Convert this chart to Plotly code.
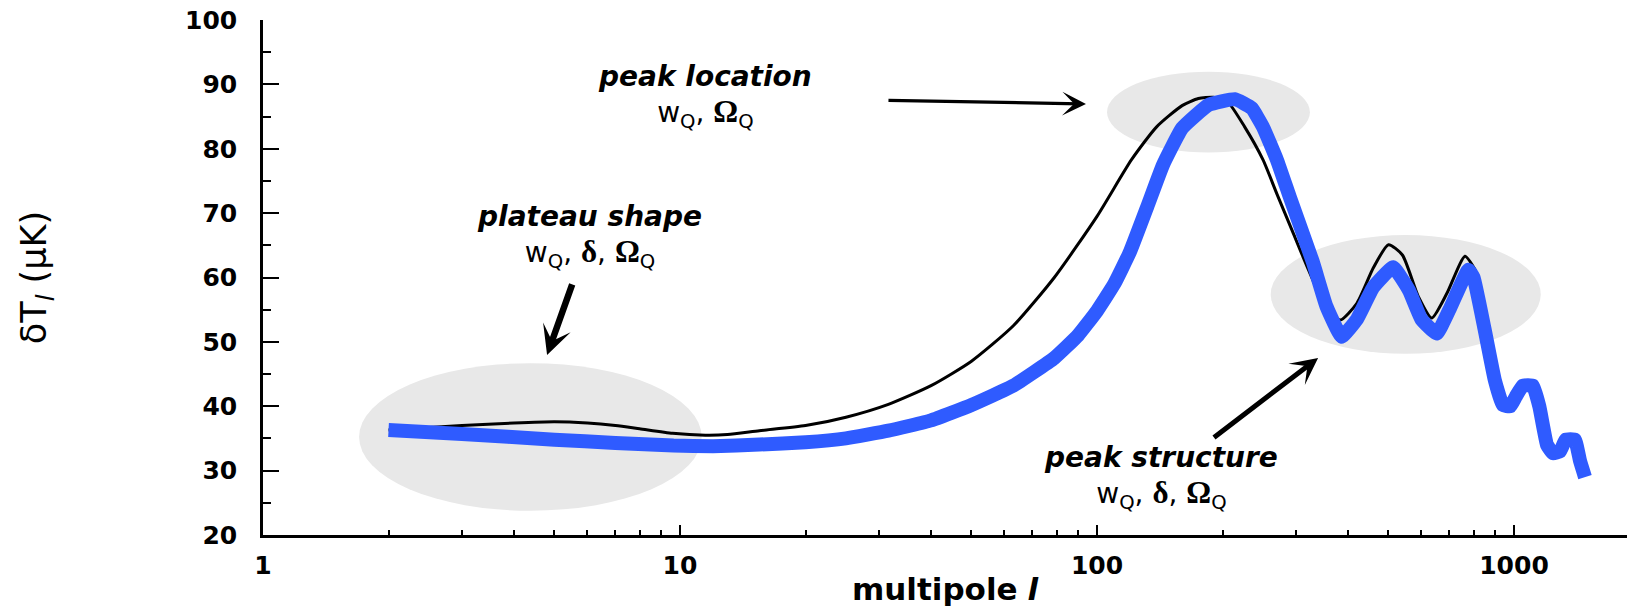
import numpy as np
import plotly.graph_objects as go

# Temperature anisotropy spectrum, dT_l in micro-kelvin, versus multipole l
l_ref = [2, 2.5, 3, 4, 5, 6, 7, 8, 9.6, 11.5, 13, 15.5, 20, 25, 31.6, 40, 50, 63, 79,
         100, 121, 139, 160, 175, 190, 205, 226, 250, 270, 295, 320, 350, 383, 420,
         460, 500, 540, 590, 635, 690, 763, 810]
dT_ref = [36.3, 36.7, 37.0, 37.4, 37.6, 37.4, 37.0, 36.5, 35.8, 35.5, 35.6, 36.2, 37.0,
          38.3, 40.3, 43.2, 47.0, 52.5, 60.0, 69.5, 78.3, 83.4, 86.7, 87.8, 88.0, 87.4,
          83.4, 78.3, 73.0, 67.0, 61.5, 56.0, 53.4, 56.0, 61.5, 65.1, 63.5, 57.0, 53.7,
          57.5, 63.3, 61.0]

l_q = [2, 3, 5, 7, 9.65, 12, 15.5, 20, 25, 31.6, 40, 50, 63, 79, 90, 100, 110, 120,
       132, 144, 160, 185, 214, 235, 250, 270, 290, 329, 355, 386, 420, 460, 513, 560,
       600, 653, 700, 777, 800, 850, 900, 940, 980, 1010, 1050, 1110, 1150, 1200, 1240,
       1290, 1330, 1400, 1440, 1480]
dT_q = [36.3, 35.7, 34.8, 34.3, 33.9, 33.8, 34.05, 34.4, 35.0, 36.2, 37.8, 40.2, 43.2,
        47.5, 51.0, 54.8, 59.0, 64.0, 71.0, 77.5, 83.2, 86.8, 87.7, 86.3, 83.4, 78.3,
        72.5, 62.5, 55.5, 50.8, 53.5, 58.5, 61.6, 58.0, 53.5, 51.3, 55.0, 61.2, 60.0,
        52.0, 44.0, 40.2, 40.0, 41.5, 43.2, 43.2, 40.0, 34.0, 32.7, 33.0, 34.8, 34.8,
        31.5, 29.0]

# Axis ticks
x_major = [1, 10, 100, 1000]
x_major_text = ["1", "10", "100", "1000"]
x_minor = [m * 10 ** d for d in range(4) for m in range(2, 10)]
y_major = list(range(20, 101, 10))

BLUE = "#2f5bff"
SHADE = "#e8e8e8"
SANS = "DejaVu Sans"
SERIF = "Liberation Serif"

fig = go.Figure()

fig.add_trace(go.Scatter(
    x=l_ref, y=dT_ref, mode="lines",
    line=dict(color="black", width=3, shape="spline", smoothing=0.6),
    showlegend=False, hoverinfo="skip",
))
fig.add_trace(go.Scatter(
    x=l_q, y=dT_q, mode="lines",
    line=dict(color=BLUE, width=14, shape="spline", smoothing=0.35),
    showlegend=False, hoverinfo="skip",
))

# Shaded regions highlighting the parameter-sensitive features
for (xa, xb, ya, yb) in [(1.70, 11.27, 23.76, 46.69),
                         (105.7, 324.0, 79.4, 91.97),
                         (261.0, 1159.0, 48.14, 66.6)]:
    fig.add_shape(type="circle", xref="x", yref="y", x0=xa, x1=xb, y0=ya, y1=yb,
                  fillcolor=SHADE, line_width=0, layer="below")


def greek(s):
    return f"<span style='font-family:{SERIF};font-weight:bold;font-size:31px'>{s}</span>"


def label(title, params):
    return f"<b><i>{title}</i></b><br>{params}"


params_2 = "w<sub>Q</sub>, " + greek("Ω") + "<sub>Q</sub>"
params_3 = "w<sub>Q</sub>, " + greek("δ") + ", " + greek("Ω") + "<sub>Q</sub>"

# Labelled arrows: tip in data units, label centre offset from the tip in px
notes = [
    (label("peak location", params_2), 94.1, 86.96, -381, -7, 3.3, 1.2, 75),
    (label("plateau shape", params_3), 4.80, 47.98, 42, -118, 6.5, 0.75, 10),
    (label("peak structure", params_3), 339.0, 47.5, -157, 120, 5.0, 0.9, 4),
]
for text, lx, vy, ax, ay, w, sz, st in notes:
    fig.add_annotation(x=np.log10(lx), y=vy, xref="x", yref="y", text=text,
                       font=dict(family=SANS, size=28, color="black"), align="center",
                       showarrow=True, arrowhead=3, arrowwidth=w, arrowsize=sz,
                       arrowcolor="black", ax=ax, ay=ay, startstandoff=st)

tick_font = dict(family=SANS, size=25, color="black", weight="bold")
x_range = [0, 3.271]

fig.update_layout(
    width=1627, height=613,
    margin=dict(l=263, r=0, t=20, b=78),
    paper_bgcolor="white", plot_bgcolor="white",
    xaxis=dict(
        type="log", range=x_range, showgrid=False, zeroline=False,
        showline=True, linecolor="black", linewidth=2.5,
        tickmode="array", tickvals=x_major, ticktext=x_major_text,
        ticks="inside", ticklen=10, tickwidth=2, tickcolor="black",
        tickfont=tick_font, ticklabelstandoff=6,
        minor=dict(tickmode="array", tickvals=x_minor, ticks="inside",
                   ticklen=5, tickwidth=2, tickcolor="black", showgrid=False),
        title=dict(text="<b>multipole</b> <b><i>l</i></b>",
                   font=dict(family=SANS, size=31, color="black"), standoff=0),
    ),
    xaxis2=dict(
        type="log", range=x_range, overlaying="x", side="top", anchor="y",
        showgrid=False, zeroline=False, showline=True, linecolor="black", linewidth=2,
        tickmode="array", tickvals=x_major, ticks="inside", ticklen=8, tickwidth=2,
        tickcolor="black", showticklabels=False,
        minor=dict(tickmode="array", tickvals=x_minor, ticks="inside",
                   ticklen=4, tickwidth=2, tickcolor="black", showgrid=False),
    ),
    yaxis=dict(
        range=[20, 100], showgrid=False, zeroline=False,
        showline=True, linecolor="black", linewidth=2.5,
        tickmode="array", tickvals=y_major,
        ticks="inside", ticklen=16, tickwidth=2, tickcolor="black",
        tickfont=tick_font, ticklabelstandoff=18,
        minor=dict(dtick=5, ticks="inside", ticklen=8, tickwidth=2,
                   tickcolor="black", showgrid=False),
        title=dict(text="δT<sub><i>l</i></sub> (μK)",
                   font=dict(family=SANS, size=35, color="black"), standoff=128),
    ),
    yaxis2=dict(
        range=[20, 100], overlaying="y", side="right", anchor="x",
        showgrid=False, zeroline=False, showline=False,
        tickmode="array", tickvals=y_major, ticks="inside", ticklen=9, tickwidth=2,
        tickcolor="black", showticklabels=False,
        minor=dict(dtick=5, ticks="inside", ticklen=3, tickwidth=2,
                   tickcolor="black", showgrid=False),
    ),
)

fig.write_html("out.html")
